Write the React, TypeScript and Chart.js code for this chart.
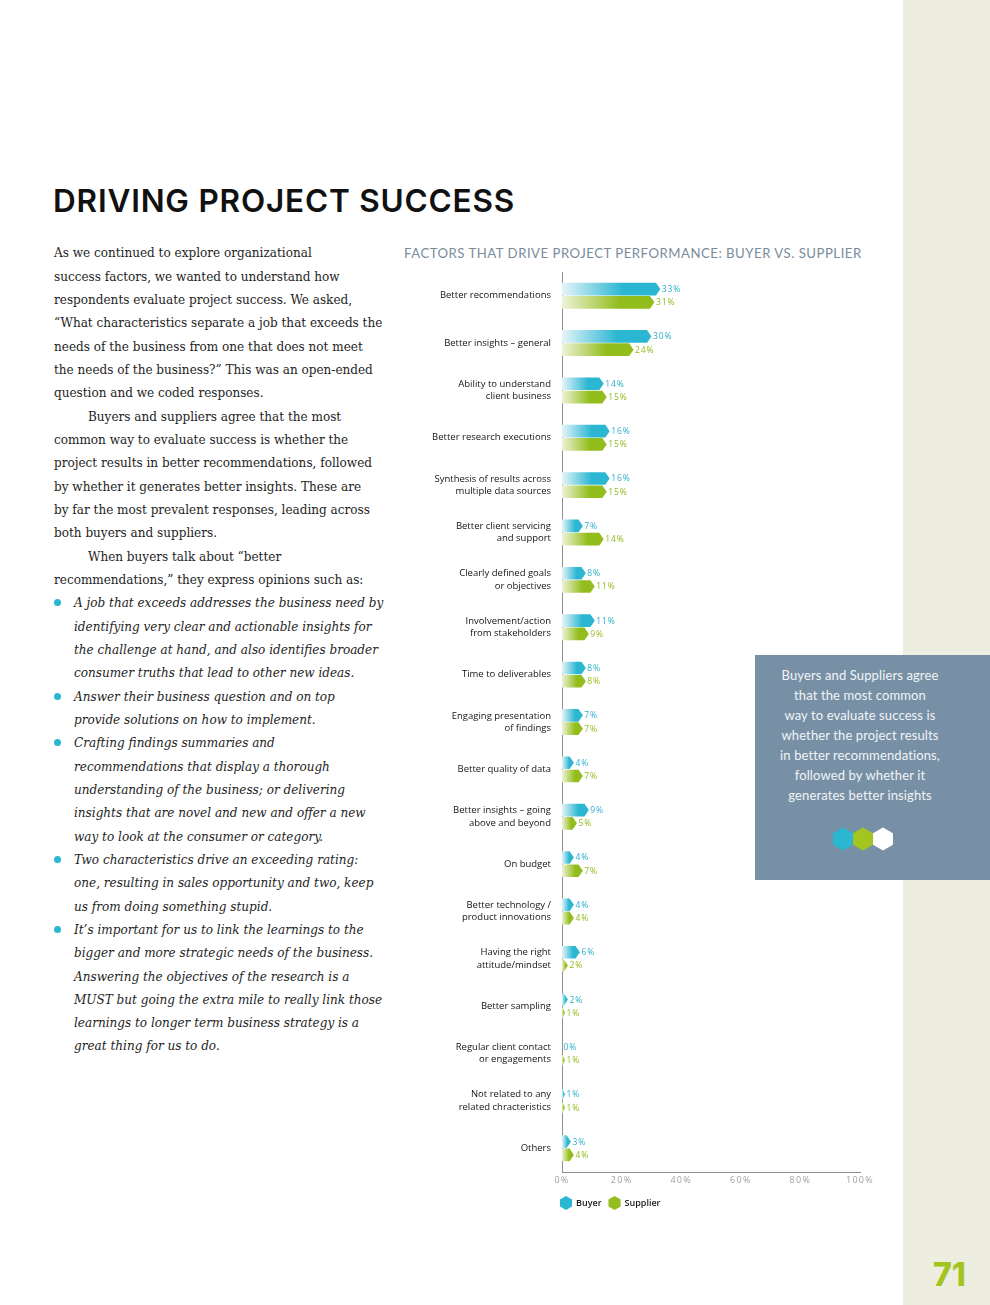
import React, { useEffect, useRef } from "react";
import { Chart, registerables } from "chart.js";

Chart.register(...registerables);

// ---------- chart data ----------
const categories: (string | string[])[] = [
  "Better recommendations",
  "Better insights – general",
  ["Ability to understand", "client business"],
  "Better research executions",
  ["Synthesis of results across", "multiple data sources"],
  ["Better client servicing", "and support"],
  ["Clearly defined goals", "or objectives"],
  ["Involvement/action", "from stakeholders"],
  "Time to deliverables",
  ["Engaging presentation", "of findings"],
  "Better quality of data",
  ["Better insights – going", "above and beyond"],
  "On budget",
  ["Better technology /", "product innovations"],
  ["Having the right", "attitude/mindset"],
  "Better sampling",
  ["Regular client contact", "or engagements"],
  ["Not related to any", "related chracteristics"],
  "Others",
];
const buyerValues = [33, 30, 14, 16, 16, 7, 8, 11, 8, 7, 4, 9, 4, 4, 6, 2, 0, 1, 3];
const supplierValues = [31, 24, 15, 15, 15, 14, 11, 9, 8, 7, 7, 5, 7, 4, 2, 1, 1, 1, 4];
const seriesNames = ["Buyer", "Supplier"];
const xMin = 0;
const xMax = 100;
const xStep = 20;

// ---------- page text ----------
const pageTitle = "DRIVING PROJECT SUCCESS";
const chartTitle = "FACTORS THAT DRIVE PROJECT PERFORMANCE: BUYER VS. SUPPLIER";
const introLines: { text: string; indent?: boolean }[] = [
  { text: "As we continued to explore organizational" },
  { text: "success factors, we wanted to understand how" },
  { text: "respondents evaluate project success. We asked," },
  { text: "“What characteristics separate a job that exceeds the" },
  { text: "needs of the business from one that does not meet" },
  { text: "the needs of the business?” This was an open-ended" },
  { text: "question and we coded responses." },
  { text: "Buyers and suppliers agree that the most", indent: true },
  { text: "common way to evaluate success is whether the" },
  { text: "project results in better recommendations, followed" },
  { text: "by whether it generates better insights. These are" },
  { text: "by far the most prevalent responses, leading across" },
  { text: "both buyers and suppliers." },
  { text: "When buyers talk about “better", indent: true },
  { text: "recommendations,” they express opinions such as:" },
];
const bulletItems: string[][] = [
  [
    "A job that exceeds addresses the business need by",
    "identifying very clear and actionable insights for",
    "the challenge at hand, and also identifies broader",
    "consumer truths that lead to other new ideas.",
  ],
  ["Answer their business question and on top", "provide solutions on how to implement."],
  [
    "Crafting findings summaries and",
    "recommendations that display a thorough",
    "understanding of the business; or delivering",
    "insights that are novel and new and offer a new",
    "way to look at the consumer or category.",
  ],
  [
    "Two characteristics drive an exceeding rating:",
    "one, resulting in sales opportunity and two, keep",
    "us from doing something stupid.",
  ],
  [
    "It’s important for us to link the learnings to the",
    "bigger and more strategic needs of the business.",
    "Answering the objectives of the research is a",
    "MUST but going the extra mile to really link those",
    "learnings to longer term business strategy is a",
    "great thing for us to do.",
  ],
];
const calloutLines = [
  "Buyers and Suppliers agree",
  "that the most common",
  "way to evaluate success is",
  "whether the project results",
  "in better recommendations,",
  "followed by whether it",
  "generates better insights",
];
const pageNumber = "71";

// ---------- styles ----------
const CYAN = "#2bb6d2";
const CYAN_LIGHT = "#e4f5f9";
const GREEN = "#93bd1c";
const GREEN_LIGHT = "#eef3d8";
const CYAN_TEXT = "#2aaecb";
const GREEN_TEXT = "#93ba1a";
const SANS = '"Open Sans", "Noto Sans", sans-serif';

function hexPath(ctx: CanvasRenderingContext2D, cx: number, cy: number, r: number) {
  ctx.beginPath();
  for (let k = 0; k < 6; k++) {
    const a = -Math.PI / 2 + (k * Math.PI) / 3;
    const px = cx + r * Math.cos(a);
    const py = cy + r * Math.sin(a);
    if (k === 0) ctx.moveTo(px, py);
    else ctx.lineTo(px, py);
  }
  ctx.closePath();
}

const hexBarPlugin = {
  id: "hexBars",
  beforeDraw(chart: any) {
    const sx = chart.scales.x;
    if (sx && !sx.__spaced) {
      const orig = sx.drawLabels.bind(sx);
      sx.drawLabels = (area: any) => {
        const c: any = chart.ctx;
        c.save();
        c.letterSpacing = "1.3px";
        orig(area);
        c.restore();
      };
      sx.__spaced = true;
    }
  },
  afterDatasetsDraw(chart: any) {
    const ctx: CanvasRenderingContext2D = chart.ctx;
    const palettes = [
      [CYAN_LIGHT, CYAN, CYAN_TEXT],
      [GREEN_LIGHT, GREEN, GREEN_TEXT],
    ];
    ctx.save();
    chart.data.datasets.forEach((ds: any, di: number) => {
      const meta = chart.getDatasetMeta(di);
      const [light, full, txt] = palettes[di];
      meta.data.forEach((el: any, i: number) => {
        const { x, y, base, height } = el.getProps(["x", "y", "base", "height"], true);
        const v = ds.data[i];
        const top = y - height / 2 + 0.3;
        const bot = y + height / 2 - 0.3;
        const len = x - base;
        if (len > 0.3) {
          const tip = Math.min(height * 0.33, len);
          const g = ctx.createLinearGradient(base, 0, x, 0);
          g.addColorStop(0, light);
          g.addColorStop(0.62, full);
          g.addColorStop(1, full);
          ctx.beginPath();
          ctx.moveTo(base, top);
          ctx.lineTo(x - tip, top);
          ctx.lineTo(x, y);
          ctx.lineTo(x - tip, bot);
          ctx.lineTo(base, bot);
          ctx.closePath();
          ctx.fillStyle = g;
          ctx.fill();
        }
        (ctx as any).letterSpacing = "0.9px";
        ctx.font = `500 8.5px ${SANS}`;
        ctx.fillStyle = txt;
        ctx.textAlign = "left";
        ctx.textBaseline = "middle";
        ctx.fillText(`${v}%`, Math.max(x, base) + 1.5, y + 0.5);
      });
    });
    ctx.restore();
  },
  afterDraw(chart: any) {
    const ctx: CanvasRenderingContext2D = chart.ctx;
    const area = chart.chartArea;
    const ly = area.bottom + 31;
    ctx.save();
    ctx.font = `600 9px ${SANS}`;
    ctx.textAlign = "left";
    ctx.textBaseline = "middle";
    const colors = [CYAN, GREEN];
    let lx = area.left + 4;
    seriesNames.forEach((name, i) => {
      hexPath(ctx, lx, ly, 7);
      ctx.fillStyle = colors[i];
      ctx.fill();
      ctx.fillStyle = "#1a1a1a";
      ctx.fillText(name, lx + 10, ly);
      lx += 10 + ctx.measureText(name).width + 13;
    });
    ctx.restore();
  },
};

function BarChart() {
  const ref = useRef<HTMLCanvasElement | null>(null);
  useEffect(() => {
    if (!ref.current) return;
    const chart = new Chart(ref.current, {
      type: "bar",
      data: {
        labels: categories as any,
        datasets: [
          {
            label: seriesNames[0],
            data: buyerValues,
            backgroundColor: "rgba(0,0,0,0)",
            borderWidth: 0,
            barPercentage: 1,
            categoryPercentage: 0.56,
          },
          {
            label: seriesNames[1],
            data: supplierValues,
            backgroundColor: "rgba(0,0,0,0)",
            borderWidth: 0,
            barPercentage: 1,
            categoryPercentage: 0.56,
          },
        ],
      },
      options: {
        indexAxis: "y",
        animation: false,
        responsive: false,
        maintainAspectRatio: false,
        layout: { padding: { top: 7, right: 20, left: 0, bottom: 0 } },
        plugins: {
          legend: { display: false },
          tooltip: { enabled: false },
          title: { display: false },
        },
        scales: {
          x: {
            min: xMin,
            max: xMax,
            ticks: {
              stepSize: xStep,
              callback: (v: any) => `${v}%`,
              color: "#a0a0a0",
              font: { family: SANS, size: 9 },
              padding: 3,
              maxRotation: 0,
            },
            grid: { display: false, drawTicks: false },
            border: { display: true, color: "#8f8f8f", width: 1 },
            afterFit: (s: any) => {
              s.height = 53;
            },
          },
          y: {
            ticks: {
              color: "#141414",
              font: { family: SANS, size: 9.5, weight: "500", lineHeight: 1.3 },
              padding: 11,
              autoSkip: false,
            },
            grid: { display: false, drawTicks: false },
            border: { display: true, color: "#8f8f8f", width: 1 },
            afterFit: (s: any) => {
              s.width = 162;
              s.paddingTop = 0;
              s.paddingBottom = 0;
            },
          },
        },
      } as any,
      plugins: [hexBarPlugin as any],
    });
    return () => chart.destroy();
  }, []);
  return (
    <canvas
      ref={ref}
      width={480}
      height={960}
      style={{ position: "absolute", left: 400, top: 265, width: 480, height: 960 }}
    />
  );
}

const SERIF = '"DejaVu Serif Condensed", "DejaVu Serif", serif';

export default function App() {
  const lineH = 23.33;
  return (
    <div
      style={{
        position: "absolute",
        left: 0,
        top: 0,
        width: 990,
        height: 1305,
        background: "#ffffff",
        overflow: "hidden",
      }}
    >
      {/* right beige band */}
      <div style={{ position: "absolute", left: 903, top: 0, width: 87, height: 1305, background: "#edeedf" }} />

      {/* page title */}
      <div
        style={{
          position: "absolute",
          left: 53,
          top: 181,
          fontFamily: '"Inter", "Open Sans", sans-serif',
          fontWeight: 600,
          fontSize: 31.5,
          lineHeight: "40px",
          color: "#111",
          whiteSpace: "nowrap",
          letterSpacing: "0.8px",
        }}
      >
        {pageTitle}
      </div>

      {/* body text */}
      <div
        style={{
          position: "absolute",
          left: 54,
          top: 253 - lineH / 2,
          width: 345,
          fontFamily: SERIF,
          fontStretch: "condensed",
          fontSize: 13.4,
          lineHeight: `${lineH}px`,
          color: "#1e1e1e",
        }}
      >
        {introLines.map((l, i) => (
          <div key={`i${i}`} style={{ whiteSpace: "nowrap", paddingLeft: l.indent ? 34 : 0 }}>
            {l.text}
          </div>
        ))}
        {bulletItems.map((item, bi) =>
          item.map((ln, j) => (
            <div
              key={`b${bi}-${j}`}
              style={{ position: "relative", whiteSpace: "nowrap", paddingLeft: 20, fontStyle: "italic" }}
            >
              {j === 0 && (
                <span
                  style={{
                    position: "absolute",
                    left: 0,
                    top: (lineH - 7) / 2,
                    width: 7,
                    height: 7,
                    borderRadius: "50%",
                    background: CYAN,
                  }}
                />
              )}
              {ln}
            </div>
          ))
        )}
      </div>

      {/* chart title */}
      <div
        style={{
          position: "absolute",
          left: 404,
          top: 245,
          fontFamily: '"Lato", "Open Sans", sans-serif',
          fontSize: 13.2,
          lineHeight: "16px",
          letterSpacing: "0.5px",
          color: "#7a8c9c",
          whiteSpace: "nowrap",
        }}
      >
        {chartTitle}
      </div>

      <BarChart />

      {/* callout box */}
      <div style={{ position: "absolute", left: 755, top: 655, width: 235, height: 225, background: "#7790a5" }}>
        <div
          style={{
            position: "absolute",
            left: 0,
            top: 10,
            width: 210,
            textAlign: "center",
            fontFamily: '"Lato", "Open Sans", sans-serif',
            fontSize: 13,
            letterSpacing: "0.12px",
            lineHeight: "20px",
            color: "#f2f4f6",
          }}
        >
          {calloutLines.map((l, i) => (
            <div key={i} style={{ whiteSpace: "nowrap" }}>
              {l}
            </div>
          ))}
        </div>
        <svg style={{ position: "absolute", left: 77, top: 172 }} width={64} height={24} viewBox="0 0 64 24">
          {[CYAN, "#a4c51f", "#ffffff"].map((c, i) => {
            const cx = 11 + i * 20;
            const cy = 12;
            const r = 11.5;
            const pts = Array.from({ length: 6 }, (_, k) => {
              const a = -Math.PI / 2 + (k * Math.PI) / 3;
              return `${cx + r * Math.cos(a)},${cy + r * Math.sin(a)}`;
            }).join(" ");
            return <polygon key={i} points={pts} fill={c} />;
          })}
        </svg>
      </div>

      {/* page number */}
      <div
        style={{
          position: "absolute",
          left: 933,
          top: 1256,
          fontFamily: '"Inter", "Lato", sans-serif',
          fontWeight: 800,
          fontSize: 32,
          lineHeight: "38px",
          color: "#a2c41f",
        }}
      >
        {pageNumber}
      </div>
    </div>
  );
}
